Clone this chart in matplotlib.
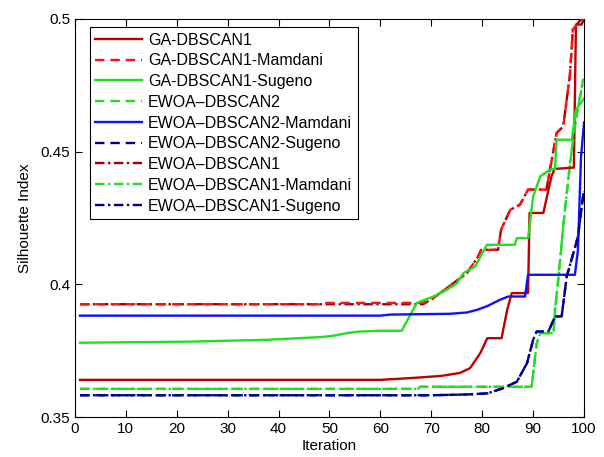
import numpy as np
import matplotlib
matplotlib.use('Agg')
import matplotlib.pyplot as plt

plt.rcParams['font.family'] = ['Liberation Sans', 'DejaVu Sans']

labels = ['GA-DBSCAN1', 'GA-DBSCAN1-Mamdani', 'GA-DBSCAN1-Sugeno',
          'EWOA\u2013DBSCAN2', 'EWOA\u2013DBSCAN2-Mamdani', 'EWOA\u2013DBSCAN2-Sugeno',
          'EWOA\u2013DBSCAN1', 'EWOA\u2013DBSCAN1-Mamdani', 'EWOA\u2013DBSCAN1-Sugeno']

# GA-DBSCAN1
x_ga = [1, 60, 67, 72, 75.6, 77.6, 79.6, 81, 83.8, 84.9, 85.8, 89, 89.3, 92, 93.6, 94.2, 98, 98.4, 99.5, 100]
y_ga = [0.364, 0.364, 0.3648, 0.3655, 0.3666, 0.3684, 0.374, 0.3797, 0.3797, 0.3904, 0.3967, 0.3967,
        0.4269, 0.4269, 0.4407, 0.4435, 0.444, 0.4979, 0.4979, 0.5]

# GA-DBSCAN1-Mamdani
x_ga_mam = [1, 48, 48.5, 68.4, 70.4, 71.7, 74.3, 77, 79.2, 79.8, 83.1, 83.7, 85.5, 87.4, 89, 92.6,
            94.6, 95.9, 97.2, 97.8, 98.8, 99.5, 100]
y_ga_mam = [0.3925, 0.3925, 0.393, 0.393, 0.3948, 0.3967, 0.4004, 0.4042, 0.4105, 0.413, 0.413, 0.4206,
            0.4281, 0.43, 0.4357, 0.4357, 0.457, 0.4595, 0.4784, 0.496, 0.4985, 0.5, 0.5]

# GA-DBSCAN1-Sugeno
x_ga_sug = [1, 22.6, 37.7, 42.9, 48.1, 50.7, 53.4, 55.8, 60, 64.2, 67.1, 67.8, 70.4, 73, 75, 76.3,
            78.6, 80.9, 86.4, 86.8, 89, 90, 91.4, 93.3, 94.3, 94.6, 97.6, 98.4, 100]
y_ga_sug = [0.378, 0.3784, 0.3791, 0.3796, 0.3801, 0.3806, 0.3816, 0.3822, 0.3825, 0.3825, 0.3929,
            0.3935, 0.3954, 0.3979, 0.4004, 0.4042, 0.4067, 0.4149, 0.4149, 0.4174, 0.4174, 0.4331,
            0.4407, 0.4432, 0.4435, 0.4545, 0.4545, 0.4658, 0.47]

# EWOA-DBSCAN2
x_ew2 = [1, 67.4, 67.8, 89.7, 90.7, 91.4, 94, 94.3, 95, 95.9, 96.6, 97.5, 98.5, 99.8, 100]
y_ew2 = [0.3606, 0.3606, 0.3614, 0.3614, 0.3778, 0.3816, 0.3816, 0.3904, 0.403, 0.4218, 0.4344,
         0.4495, 0.4633, 0.4772, 0.4775]

# EWOA-DBSCAN2-Mamdani
x_ew2_mam = [1, 60, 62, 73.7, 77, 79, 81, 83.5, 85.1, 88.4, 89, 98.2, 98.8, 99.4, 100]
y_ew2_mam = [0.3882, 0.3882, 0.3886, 0.3889, 0.3894, 0.3904, 0.3918, 0.3942, 0.3954, 0.3954,
             0.4036, 0.4036, 0.413, 0.448, 0.461]

# EWOA-DBSCAN2-Sugeno
x_ew2_sug = [1, 70, 77, 81, 84, 86.8, 88.8, 90, 90.7, 93, 94.3, 95.6, 96.6, 97.9, 98.8, 99.8, 100]
y_ew2_sug = [0.3582, 0.3582, 0.3585, 0.3589, 0.3608, 0.3633, 0.3703, 0.3791, 0.3822, 0.3822,
             0.3879, 0.3879, 0.403, 0.4118, 0.418, 0.4331, 0.435]

# EWOA-DBSCAN1
x_ew1 = [1, 68.4, 70.4, 71.7, 74.3, 77, 79.2, 79.8, 83.1, 83.7, 85.5, 87.4, 89, 92.6,
         94.6, 95.9, 97.2, 97.8, 98.8, 99.5, 100]
y_ew1 = [0.3925, 0.3925, 0.3948, 0.3967, 0.4004, 0.4042, 0.4105, 0.413, 0.413, 0.4206,
         0.4281, 0.43, 0.4357, 0.4357, 0.457, 0.4595, 0.4784, 0.496, 0.4985, 0.5, 0.5]

# EWOA-DBSCAN1-Mamdani
x_ew1_mam = [1, 67.4, 67.8, 89.7, 90.7, 91.4, 94, 94.3, 95, 95.9, 96.6, 97.5, 98.5, 99.8, 100]
y_ew1_mam = [0.3606, 0.3606, 0.3614, 0.3614, 0.3778, 0.3816, 0.3816, 0.3904, 0.403, 0.4218,
             0.4344, 0.4495, 0.4633, 0.4765, 0.477]

# EWOA-DBSCAN1-Sugeno
x_ew1_sug = [1, 70, 77, 81, 84, 86.8, 88.8, 90, 90.7, 93, 94.3, 95.6, 96.6, 97.9, 98.8, 99.8, 100]
y_ew1_sug = [0.3582, 0.3582, 0.3585, 0.3589, 0.3608, 0.3633, 0.3703, 0.3791, 0.3822, 0.3822,
             0.3879, 0.3879, 0.403, 0.4118, 0.418, 0.4331, 0.435]

series = [(x_ga, y_ga), (x_ga_mam, y_ga_mam), (x_ga_sug, y_ga_sug),
          (x_ew2, y_ew2), (x_ew2_mam, y_ew2_mam), (x_ew2_sug, y_ew2_sug),
          (x_ew1, y_ew1), (x_ew1_mam, y_ew1_mam), (x_ew1_sug, y_ew1_sug)]
colors = ['#c00000', '#ff1010', '#22dd22', '#22dd22', '#1010ff', '#00008b',
          '#a00000', '#22dd22', '#00008b']
styles = ['-', (0, (4, 2.5)), '-', (0, (4, 2.5)), '-', (0, (4, 2.5)),
          (0, (4, 1.5, 1, 1.5)), (0, (4, 1.5, 1, 1.5)), (0, (4, 1.5, 1, 1.5))]
zorders = [3, 3, 3, 3, 3, 3, 2, 2, 2]

fig = plt.figure(figsize=(6.04, 4.57), dpi=100)
ax = fig.add_axes([0.124, 0.0875, 0.843, 0.871])

for (xs, ys), c, ls, z, lab in zip(series, colors, styles, zorders, labels):
    ax.plot(xs, ys, color=c, linestyle=ls, linewidth=1.7, label=lab, zorder=z)

ax.set_xlim(0, 100)
ax.set_ylim(0.35, 0.5)
ax.set_xticks(np.arange(0, 101, 10))
ax.set_yticks([0.35, 0.4, 0.45, 0.5])
ax.set_yticklabels(['0.35', '0.4', '0.45', '0.5'])
ax.tick_params(direction='in', top=True, right=True, labelsize=11, length=5, width=0.8)
for s in ax.spines.values():
    s.set_linewidth(0.8)
ax.set_xlabel('Iteration', fontsize=11, labelpad=2)
ax.set_ylabel('Silhouette Index', fontsize=11, labelpad=6)

leg = ax.legend(loc='upper left', bbox_to_anchor=(0.029, 0.98), borderaxespad=0,
                fontsize=11.5, handlelength=2.9, labelspacing=0.36,
                fancybox=False, framealpha=1, edgecolor='black',
                borderpad=0.35, handletextpad=0.4)
leg.get_frame().set_linewidth(0.8)

fig.savefig('out.png', dpi=100)
